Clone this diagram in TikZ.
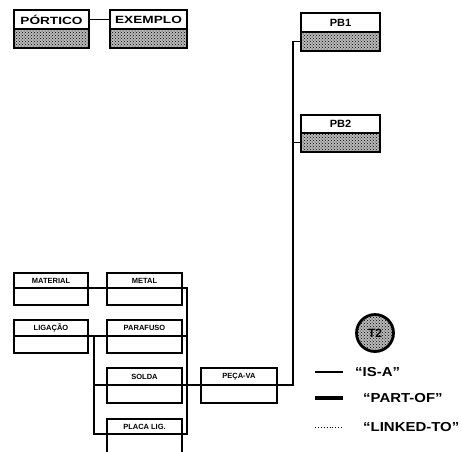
\documentclass[tikz,border=0pt]{standalone}
\usepackage{fontspec}
\setmainfont{Liberation Sans}
\usetikzlibrary{patterns}
\newcommand{\umlbox}[8]{%
  \node[bodybox, #8, minimum width={(#4-#2)*1pt}, minimum height={(#6-#5)*1pt}] (#1b) at ({(#2+#4)/2},{(#5+#6)/2}) {};
  \node[hdr, #8, fill=white, minimum width={(#4-#2)*1pt}, minimum height={(#5-#3)*1pt}] (#1) at ({(#2+#4)/2},{(#3+#5)/2}) {#7};
}
\newcommand{\bigtxt}[2]{{\fontsize{10.5}{10.5}\selectfont\scalebox{#1}[1]{#2}}}
\newcommand{\legtxt}[1]{{\fontsize{13}{13}\selectfont\scalebox{1.15}[1]{#1}}}
\tikzset{
  hdr/.style={draw, line width=1.8pt, inner sep=0pt, outer sep=0pt, font=\bfseries\fontsize{7.5}{7.5}\selectfont},
  bodybox/.style={draw, line width=1.8pt, inner sep=0pt, outer sep=0pt},
  hatch/.style={preaction={fill=gray!55}, pattern=crosshatch dots, line width=2.4pt},
  plain/.style={},
  link/.style={line width=1.4pt},
  isa/.style={line width=1.3pt},
  partof/.style={line width=3.5pt},
  linkedto/.style={line width=0.9pt, dotted},
  legend/.style={anchor=west, inner sep=0pt, font=\bfseries}
}
\begin{document}
\begin{tikzpicture}[x=1pt, y=-1pt]
\useasboundingbox (0,0) rectangle (462,451);
% top boxes
\umlbox{port}{14}{10}{89}{29}{48}{\bigtxt{1.3}{PÓRTICO}}{hatch}
\umlbox{exem}{110}{10}{187}{29}{48}{\bigtxt{1.3}{EXEMPLO}}{hatch}
\umlbox{pbone}{301}{13}{380}{32}{51}{\bigtxt{1.05}{PB1}}{hatch}
\umlbox{pbtwo}{301}{115}{380}{133}{152}{\bigtxt{1.05}{PB2}}{hatch}
% lower boxes
\umlbox{mat}{14}{273}{88}{288}{305}{MATERIAL}{plain}
\umlbox{metal}{107}{273}{182}{288}{305}{METAL}{plain}
\umlbox{lig}{14}{320}{88}{336}{353}{LIGAÇÃO}{plain}
\umlbox{paraf}{107}{320}{182}{336}{353}{PARAFUSO}{plain}
\umlbox{solda}{107}{368}{182}{385}{403}{SOLDA}{plain}
\umlbox{placa}{107}{419}{182}{434}{462}{PLACA LIG.}{plain}
\umlbox{peca}{201}{368}{277}{385}{403}{PEÇA-VA}{plain}
% connectors
\draw[link] (port.east) -- (exem.west);
\coordinate (spine) at (187,288);
\coordinate (lspine) at (94,336);
\coordinate (pbspine) at (293,385);
\draw[link] (mat.south east) -- (metal.south west);
\draw[link] (metal.south east) -- (spine) |- (placa.south east);
\draw[link] (paraf.south east) -- (spine |- paraf.south east);
\draw[link] (lig.south east) -- (paraf.south west);
\draw[link] (lspine) |- (placa.south west);
\draw[link] (lspine |- solda.south west) -- (solda.south west);
\draw[link] (solda.south east) -- (peca.south west);
\draw[link] (peca.south east) -- (pbspine) |- (pboneb.west);
\draw[link] (pbspine |- pbtwob.west) -- (pbtwob.west);
% legend
\node[circle, draw, line width=2.8pt, preaction={fill=gray!55}, pattern=crosshatch dots, minimum size=37pt, inner sep=0pt] (t2) at (375,333) {};
\node[font=\bfseries\fontsize{12}{12}\selectfont, inner sep=0.5pt] (t2l) at (t2) {T2};
\coordinate (isaA) at (315,372); \coordinate (isaB) at (343,372);
\coordinate (partA) at (315,398); \coordinate (partB) at (343,398);
\coordinate (linkA) at (315,427); \coordinate (linkB) at (343,427);
\draw[isa] (isaA) -- (isaB);
\draw[partof] (partA) -- (partB);
\draw[linkedto] (linkA) -- (linkB);
\node[legend] (isaT) at (355,372) {\legtxt{“IS-A”}};
\node[legend] (partT) at (363,398) {\legtxt{“PART-OF”}};
\node[legend] (linkT) at (363,427) {\legtxt{“LINKED-TO”}};
\end{tikzpicture}
\end{document}
